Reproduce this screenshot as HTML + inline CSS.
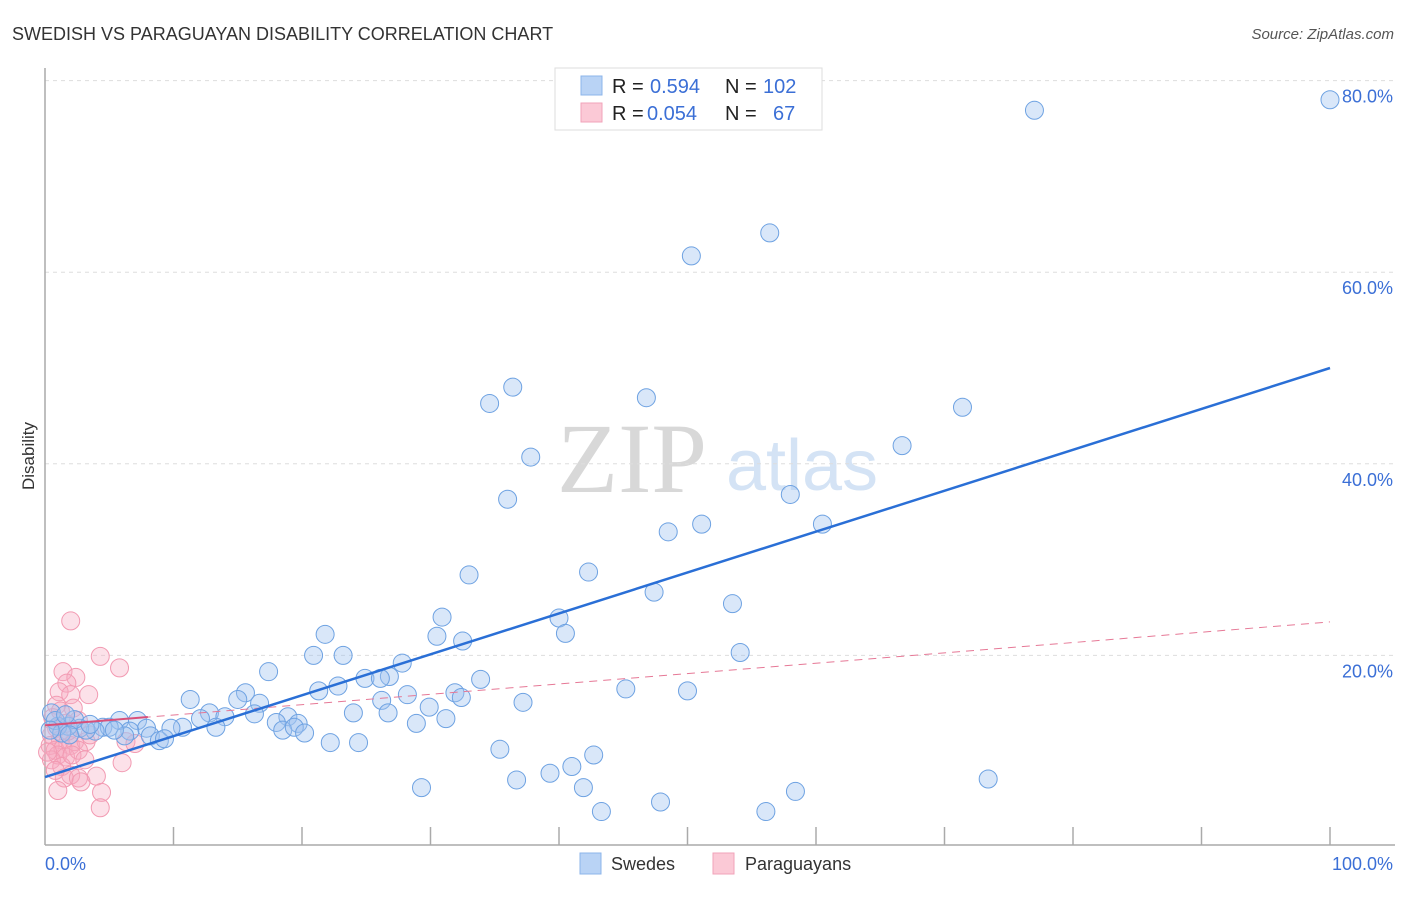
<!DOCTYPE html>
<html><head><meta charset="utf-8"><style>
body{margin:0;background:#fff;font-family:"Liberation Sans",sans-serif}
</style></head><body>
<svg width="1406" height="892" xmlns="http://www.w3.org/2000/svg" font-family="Liberation Sans, sans-serif">
<text x="12" y="40" font-size="18" fill="#333">SWEDISH VS PARAGUAYAN DISABILITY CORRELATION CHART</text>
<text x="1394" y="39" font-size="15" fill="#555" text-anchor="end" font-style="italic">Source: ZipAtlas.com</text>
<g>
<text x="632" y="492" font-size="100" fill="#d8d8d8" text-anchor="middle" style="font-family:'Liberation Serif',serif">ZIP</text>
<text x="802" y="490" font-size="72" fill="#d4e3f5" text-anchor="middle">atlas</text>
</g>
<g id="grid"></g>
<g id="axes"></g>
<g id="pink"></g>
<g id="blue"></g>
<g id="trends"></g>
<text transform="translate(34,456) rotate(-90)" font-size="17" fill="#333" text-anchor="middle">Disability</text>
<text x="45" y="870" font-size="18" fill="#3b6fd6">0.0%</text>
<text x="1393" y="870" font-size="18" fill="#3b6fd6" text-anchor="end">100.0%</text>
<g>
<rect x="555" y="68" width="267" height="62" fill="#fff" stroke="#ddd"/>
<rect x="581" y="76" width="21" height="19" fill="#b9d3f5" stroke="#8cb4ea"/>
<rect x="581" y="103" width="21" height="19" fill="#fbc9d6" stroke="#f2a3b9"/>
<text x="612" y="93" font-size="20" fill="#222">R = <tspan x="650" fill="#3b6fd6">0.594</tspan><tspan x="725">N = </tspan><tspan x="763" fill="#3b6fd6">102</tspan></text>
<text x="612" y="120" font-size="20" fill="#222">R = <tspan x="647" fill="#3b6fd6">0.054</tspan><tspan x="725">N = </tspan><tspan x="773" fill="#3b6fd6">67</tspan></text>
</g>
<g>
<rect x="580" y="853" width="21" height="21" fill="#b9d3f5" stroke="#8cb4ea"/>
<text x="611" y="870" font-size="18" fill="#333">Swedes</text>
<rect x="713" y="853" width="21" height="21" fill="#fbc9d6" stroke="#f2a3b9"/>
<text x="745" y="870" font-size="18" fill="#333">Paraguayans</text>
</g>
</svg>
<script>
const yTicks=[20,40,60,80];
const yTickLabels=["20.0%","40.0%","60.0%","80.0%"];
const blueX=[100,77,56.4,50.3,36.4,34.6,46.8,71.4,37.8,66.7,36,58,51.1,48.5,60.5,33,42.3,47.4,53.5,30.9,40,40.5,30.5,32.5,21.8,20.9,23.2,54.1,17.4,27.8,26.8,24.9,26.1,33.9,22.8,21.3,45.2,50,28.2,31.9,26.2,32.4,37.2,11.3,15.6,15,16.7,29.9,24,26.7,31.2,28.9,12.8,14,16.3,12.1,18.9,19.7,18,13.3,18.5,19.4,20.2,10.7,9.8,7.2,5.8,7.9,6.6,4.5,5,3.9,2.7,1.8,1,3.2,8.2,8.9,9.3,6.2,22.2,24.4,35.4,42.7,39.3,41,36.7,29.3,41.9,58.4,73.4,43.3,47.9,56.1,0.5,0.8,1.3,2.3,0.4,1.6,3.5,1.9,5.4];
const blueY=[78,76.9,64.1,61.7,48,46.3,46.9,45.9,40.7,41.9,36.3,36.8,33.7,32.9,33.7,28.4,28.7,26.6,25.4,24,23.9,22.3,22,21.5,22.2,20,20,20.3,18.3,19.2,17.8,17.6,17.6,17.5,16.8,16.3,16.5,16.3,15.9,16.1,15.3,15.6,15.1,15.4,16.1,15.4,15,14.6,14,14,13.4,12.9,14,13.6,13.9,13.4,13.6,12.9,13,12.5,12.2,12.5,11.9,12.5,12.4,13.2,13.2,12.4,12.1,12.5,12.5,12.1,12.4,12.6,12.6,12.2,11.6,11.1,11.3,11.6,10.9,10.9,10.2,9.6,7.7,8.4,7,6.2,6.2,5.8,7.1,3.7,4.7,3.7,14,13.2,11.9,13.3,12.2,13.8,12.8,11.7,12.2];
const pinkX=[2,4.3,5.8,1.4,2.4,1.7,3.4,1.1,2,0.9,2.2,0.6,2.6,1.6,0.9,0.5,1.2,0.4,0.8,1.4,2,2.3,3.2,1,1.6,0.5,0.2,1.3,2,1.5,2.6,4,2.8,1,4.4,4.3,6,6.3,7,2.6,2.1,0.8,3.1,1.8,3.5,1.2];
const pinkY=[23.6,19.9,18.7,18.3,17.7,17.1,15.9,16.2,15.9,14.8,14.5,13.5,13.2,12.9,12.4,11.7,11.2,10.6,10.1,10.3,10.6,11,11,9.6,9.4,9.1,9.9,8.4,7.5,7.2,7.2,7.4,6.8,5.9,5.7,4.1,8.8,11,10.8,10.1,9.6,8,9.1,12.1,11.7,14.2];
const blueTrend=[7.3,50];
const pinkTrend=[12.7,23.5];
const NS='http://www.w3.org/2000/svg';
const xs=v=>45+v*12.85, ys=v=>847-v*9.58;
function mk(tag,attrs,parent){const e=document.createElementNS(NS,tag);for(const k in attrs)e.setAttribute(k,attrs[k]);document.getElementById(parent).appendChild(e);return e;}
yTicks.forEach((t,i)=>{
 const l=mk('line',{x1:45,x2:1395,y1:ys(t),y2:ys(t),stroke:'#ddd','stroke-dasharray':'4,4'},'grid');
 
 
 const tx=mk('text',{x:1393,y:ys(t)+22,'font-size':18,fill:'#3b6fd6','text-anchor':'end'},'grid');
 tx.textContent=yTickLabels[i];
 
 
});
const ya=mk('line',{x1:45,x2:45,y1:68,y2:845,stroke:'#aaa','stroke-width':1.5},'axes');


const xa=mk('line',{x1:45,x2:1395,y1:845,y2:845,stroke:'#aaa','stroke-width':1.5},'axes');


for(let i=1;i<=10;i++){const t=mk('line',{x1:xs(i*10),x2:xs(i*10),y1:827,y2:845,stroke:'#aaa','stroke-width':1.5},'axes');
 
 }
pinkX.forEach((x,i)=>{const c=mk('circle',{cx:xs(x),cy:ys(pinkY[i]),r:9,fill:'rgba(246,170,192,0.35)',stroke:'#f29ab2','stroke-width':1},'pink');
 
 });
blueX.forEach((x,i)=>{const c=mk('circle',{cx:xs(x),cy:ys(blueY[i]),r:9,fill:'rgba(160,196,240,0.4)',stroke:'#6ea2e2','stroke-width':1},'blue');
 
 });
const pt=mk('line',{x1:xs(0),y1:ys(pinkTrend[0]),x2:xs(100),y2:ys(pinkTrend[1]),stroke:'#e67896','stroke-width':1,'stroke-dasharray':'8,6'},'trends');


const pe=pinkTrend[0]+(pinkTrend[1]-pinkTrend[0])*0.08;
const ps=mk('line',{x1:xs(0),y1:ys(pinkTrend[0]),x2:xs(8),y2:ys(pe),stroke:'#d9507a','stroke-width':2},'trends');


const bt=mk('line',{x1:xs(0),y1:ys(blueTrend[0]),x2:xs(100),y2:ys(blueTrend[1]),stroke:'#2a6fd6','stroke-width':2.5},'trends');


</script>
</body></html>
